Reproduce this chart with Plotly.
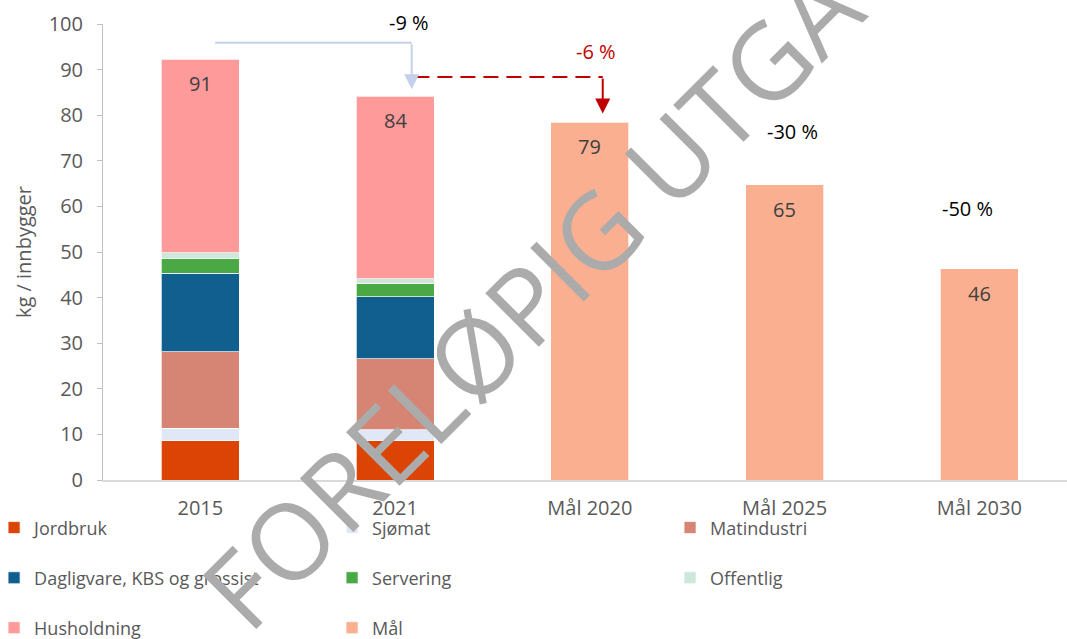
import plotly.graph_objects as go

categories = ["2015", "2021", "Mål 2020", "Mål 2025", "Mål 2030"]

jordbruk = [8.6, 8.6, None, None, None]
sjomat = [2.8, 2.4, None, None, None]
matindustri = [16.7, 15.6, None, None, None]
dagligvare = [17.2, 13.6, None, None, None]
servering = [3.3, 2.9, None, None, None]
offentlig = [1.2, 1.0, None, None, None]
husholdning = [42.5, 40.1, None, None, None]
maal = [None, None, 78.5, 64.7, 46.3]

bar_labels = ["91", "84", "79", "65", "46"]
change_labels = ["-9 %", "-6 %", "-30 %", "-50 %"]

series = [
    ("Jordbruk", jordbruk, "#DC4405", "legend"),
    ("Sjømat", sjomat, "#E0E7F6", "legend"),
    ("Matindustri", matindustri, "#D68473", "legend"),
    ("Dagligvare, KBS og grossist", dagligvare, "#115F8E", "legend2"),
    ("Servering", servering, "#4AA944", "legend2"),
    ("Offentlig", offentlig, "#CDE8DB", "legend2"),
    ("Husholdning", husholdning, "#FF9A9A", "legend3"),
    ("Mål", maal, "#FAAF90", "legend3"),
]

FONT = "Open Sans"
GREY = "#595959"

fig = go.Figure()
for name, vals, col, leg in series:
    fig.add_trace(go.Bar(
        x=categories, y=vals, name=name, legend=leg,
        marker=dict(color=col, line=dict(color="rgba(255,255,255,0.7)", width=1)),
        width=0.4, hoverinfo="skip",
    ))

# totals for label positions
totals = []
for i in range(len(categories)):
    s = 0
    for _, vals, _, _ in series:
        if vals[i] is not None:
            s += vals[i]
    totals.append(s)

annotations = []
for i, lab in enumerate(bar_labels):
    annotations.append(dict(
        x=i, y=totals[i], xref="x", yref="y", text=lab,
        showarrow=False, xanchor="center", yanchor="top", yshift=-9,
        font=dict(family=FONT, size=20, color="#404040"),
    ))

# change labels: (x in category units, y in paper units, colour)
change_pos = [(1.07, 1.004, "#000000"), (2.03, 0.939, "#C00000"),
              (3.04, 0.765, "#000000"), (3.94, 0.596, "#000000")]
for lab, (px, py, c) in zip(change_labels, change_pos):
    annotations.append(dict(
        x=px, y=py, xref="x", yref="paper", text=lab, showarrow=False,
        xanchor="center", yanchor="middle",
        font=dict(family=FONT, size=20, color=c),
    ))

# arrows
annotations.append(dict(
    x=1.085, y=85.7, ax=1.085, ay=95.9, xref="x", yref="y", axref="x", ayref="y",
    text="", showarrow=True, arrowhead=2, arrowsize=1.5, arrowwidth=2,
    arrowcolor="#C5D0EA", standoff=0, startstandoff=0,
))
annotations.append(dict(
    x=2.066, y=80.4, ax=2.066, ay=88.4, xref="x", yref="y", axref="x", ayref="y",
    text="", showarrow=True, arrowhead=2, arrowsize=1.5, arrowwidth=2,
    arrowcolor="#C00000", standoff=0, startstandoff=0,
))

# watermark
annotations.append(dict(
    x=0.488, y=0.495, xref="paper", yref="paper", text="FORELØPIG UTGAVE",
    showarrow=False, textangle=-45, xanchor="center", yanchor="middle",
    font=dict(family=FONT, size=106, color="#ABABAB", weight=500),
))

shapes = [
    dict(type="line", xref="x", yref="y", x0=0.075, x1=1.085, y0=95.9, y1=95.9,
         line=dict(color="#C5D0EA", width=2)),
    dict(type="line", xref="x", yref="y", x0=1.099, x1=2.066, y0=88.4, y1=88.4,
         line=dict(color="#C00000", width=2, dash="15px,8px")),
]

legend_common = dict(
    orientation="h", entrywidth=293, entrywidthmode="pixels",
    font=dict(family=FONT, size=18, color=GREY), bgcolor="rgba(0,0,0,0)",
    xanchor="left", yanchor="middle", x=-0.113, traceorder="normal",
)

fig.update_layout(
    width=1067, height=639,
    margin=dict(l=103, r=0, t=24, b=159, autoexpand=False),
    paper_bgcolor="white", plot_bgcolor="white",
    barmode="stack", bargap=0.6,
    font=dict(family=FONT, size=20, color=GREY),
    xaxis=dict(
        type="category", range=[-0.5, 4.45], showgrid=False,
        showline=True, linecolor="#D9D9D9", linewidth=2, ticks="",
        ticklabelstandoff=9,
        tickfont=dict(family=FONT, size=20, color=GREY),
    ),
    yaxis=dict(
        range=[0, 100], dtick=10, showgrid=False, zeroline=False,
        showline=True, linecolor="#BFBFBF", linewidth=1,
        ticks="outside", ticklen=5, tickcolor="#BFBFBF",
        ticklabelstandoff=10,
        tickfont=dict(family=FONT, size=20, color=GREY),
        title=dict(text="kg / innbygger", standoff=11,
                   font=dict(family=FONT, size=20, color=GREY)),
    ),
    legend=dict(legend_common, y=-0.105),
    legend2=dict(legend_common, y=-0.215),
    legend3=dict(legend_common, y=-0.3246),
    annotations=annotations,
    shapes=shapes,
    showlegend=True,
)

fig.write_html("out.html", config={"displayModeBar": False},
               post_script="document.body.style.margin='0';")
